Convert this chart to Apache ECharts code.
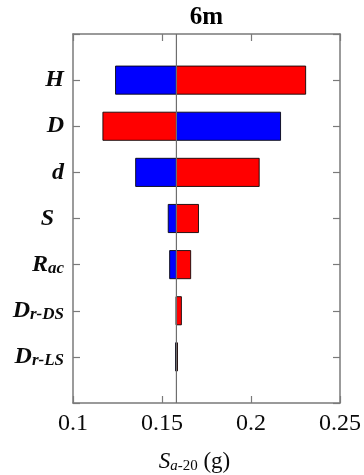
<!DOCTYPE html>
<html>
<head>
<meta charset="utf-8">
<script src="https://cdn.jsdelivr.net/npm/echarts@6/dist/echarts.min.js"></script>
<style>html,body{margin:0;padding:0;background:#fff;}#c{width:364px;height:475px;}</style>
</head>
<body>
<div id="c"></div>
<script>
// ---- data ----
const titleText = '6m';
const categories = ['H', 'D', 'd', 'S', 'R_ac', 'D_r-DS', 'D_r-LS'];
const baseline = 0.1581;
const blueValues = [0.1239, 0.2166, 0.1352, 0.1535, 0.1543, 0.1579, 0.1576];
const redValues  = [0.2307, 0.1168, 0.2046, 0.1705, 0.1661, 0.1609, 0.1587];
const xTicks = [0.1, 0.15, 0.2, 0.25];

// ---- build ----
const FONT = '"Liberation Serif", "Times New Roman", serif';
const TXT = '#0a0a0a';
const yCats = [''].concat(categories, ['']);
function barData(vals) {
  return vals.map((v, i) => [Math.min(baseline, v), Math.max(baseline, v), i + 1]);
}
function labelFmt(v) {
  if (!v) return '';
  const parts = v.split('_');
  if (parts.length === 1) return v === 'S' ? '{m|S}{gap|}' : '{m|' + v + '}';
  return '{m|' + parts[0] + '}{s|' + parts[1] + '}';
}
function makeRender(color) {
  return function (params, api) {
    const lo = api.value(0), hi = api.value(1), ci = api.value(2);
    const p0 = api.coord([lo, ci]);
    const p1 = api.coord([hi, ci]);
    const h = api.size([0, 1])[1] * 0.61;
    return {
      type: 'rect',
      shape: { x: p0[0], y: p0[1] - h / 2, width: Math.max(p1[0] - p0[0], 0.5), height: h },
      style: { fill: color, stroke: 'rgba(0,0,0,0.85)', lineWidth: 1 }
    };
  };
}
const axisGray = '#7a7a7a';
const xMin = xTicks[0], xMax = xTicks[xTicks.length - 1];
const xInt = Math.round((xTicks[1] - xTicks[0]) * 1e6) / 1e6;
const tickFmt = v => String(Math.round(v * 1e6) / 1e6);

const option = {
  animation: false,
  backgroundColor: '#fff',
  grid: { left: 73, right: 24, top: 34, bottom: 72, containLabel: false, outerBoundsMode: 'none' },
  graphic: [{
    type: 'text', x: 206.5, y: 18,
    style: { text: titleText, textAlign: 'center', textVerticalAlign: 'middle',
             font: 'bold 25px ' + FONT, fill: '#000' }
  }],
  xAxis: [{
    type: 'value', min: xMin, max: xMax, interval: xInt, position: 'bottom',
    axisLine: { show: true, lineStyle: { color: axisGray, width: 1.5 } },
    axisTick: { show: true, inside: true, length: 7, lineStyle: { color: axisGray, width: 1.2 } },
    splitLine: { show: false },
    axisLabel: { margin: 9, fontSize: 24, fontFamily: FONT, color: TXT, formatter: tickFmt, hideOverlap: false },
    name: '{i|S}{s|a}{r|-20}{n| (g)}',
    nameLocation: 'middle', nameGap: 47,
    nameTextStyle: {
      padding: [0, 24, 0, 0],
      rich: {
        i: { fontSize: 23, fontStyle: 'italic', fontFamily: FONT, color: TXT, lineHeight: 24 },
        s: { fontSize: 15, fontStyle: 'italic', fontFamily: FONT, color: TXT, lineHeight: 10, verticalAlign: 'bottom' },
        r: { fontSize: 15, fontFamily: FONT, color: TXT, lineHeight: 10, verticalAlign: 'bottom' },
        n: { fontSize: 23, fontFamily: FONT, color: TXT, lineHeight: 24 }
      }
    }
  }, {
    type: 'value', min: xMin, max: xMax, interval: xInt, position: 'top',
    axisLine: { show: true, lineStyle: { color: axisGray, width: 1.5 } },
    axisTick: { show: true, inside: true, length: 7, lineStyle: { color: axisGray, width: 1.2 } },
    splitLine: { show: false },
    axisLabel: { show: false }
  }],
  yAxis: [{
    type: 'category', data: yCats, inverse: true, boundaryGap: false, position: 'left',
    axisLine: { show: true, lineStyle: { color: axisGray, width: 1.5 } },
    axisTick: { show: true, inside: true, length: 7, lineStyle: { color: axisGray, width: 1.2 } },
    splitLine: { show: false },
    axisLabel: {
      margin: 9, interval: 0, formatter: labelFmt,
      rich: {
        m: { fontSize: 24, fontWeight: 'bold', fontStyle: 'italic', fontFamily: FONT, color: TXT, lineHeight: 24 },
        s: { fontSize: 17, fontWeight: 'bold', fontStyle: 'italic', fontFamily: FONT, color: TXT, lineHeight: 11, verticalAlign: 'bottom' },
        gap: { width: 10 }
      }
    }
  }, {
    type: 'category', data: yCats, inverse: true, boundaryGap: false, position: 'right',
    axisLine: { show: true, lineStyle: { color: axisGray, width: 1.5 } },
    axisTick: { show: true, inside: true, length: 7, lineStyle: { color: axisGray, width: 1.2 } },
    splitLine: { show: false },
    axisLabel: { show: false }
  }],
  series: [{
    type: 'custom', name: 'low', xAxisIndex: 0, yAxisIndex: 0,
    renderItem: makeRender('#0000ff'), encode: { x: [0, 1], y: 2 },
    data: barData(blueValues), z: 2
  }, {
    type: 'custom', name: 'high', xAxisIndex: 0, yAxisIndex: 0,
    renderItem: makeRender('#ff0000'), encode: { x: [0, 1], y: 2 },
    data: barData(redValues), z: 2
  }, {
    type: 'line', name: 'base', xAxisIndex: 0, yAxisIndex: 0,
    data: [[baseline, 0], [baseline, yCats.length - 1]],
    symbol: 'none', lineStyle: { color: '#6e6e6e', width: 1.2 }, z: 5, silent: true
  }]
};
const chart = echarts.init(document.getElementById('c'), null, { renderer: 'canvas' });
chart.setOption(option);
</script>
</body>
</html>
